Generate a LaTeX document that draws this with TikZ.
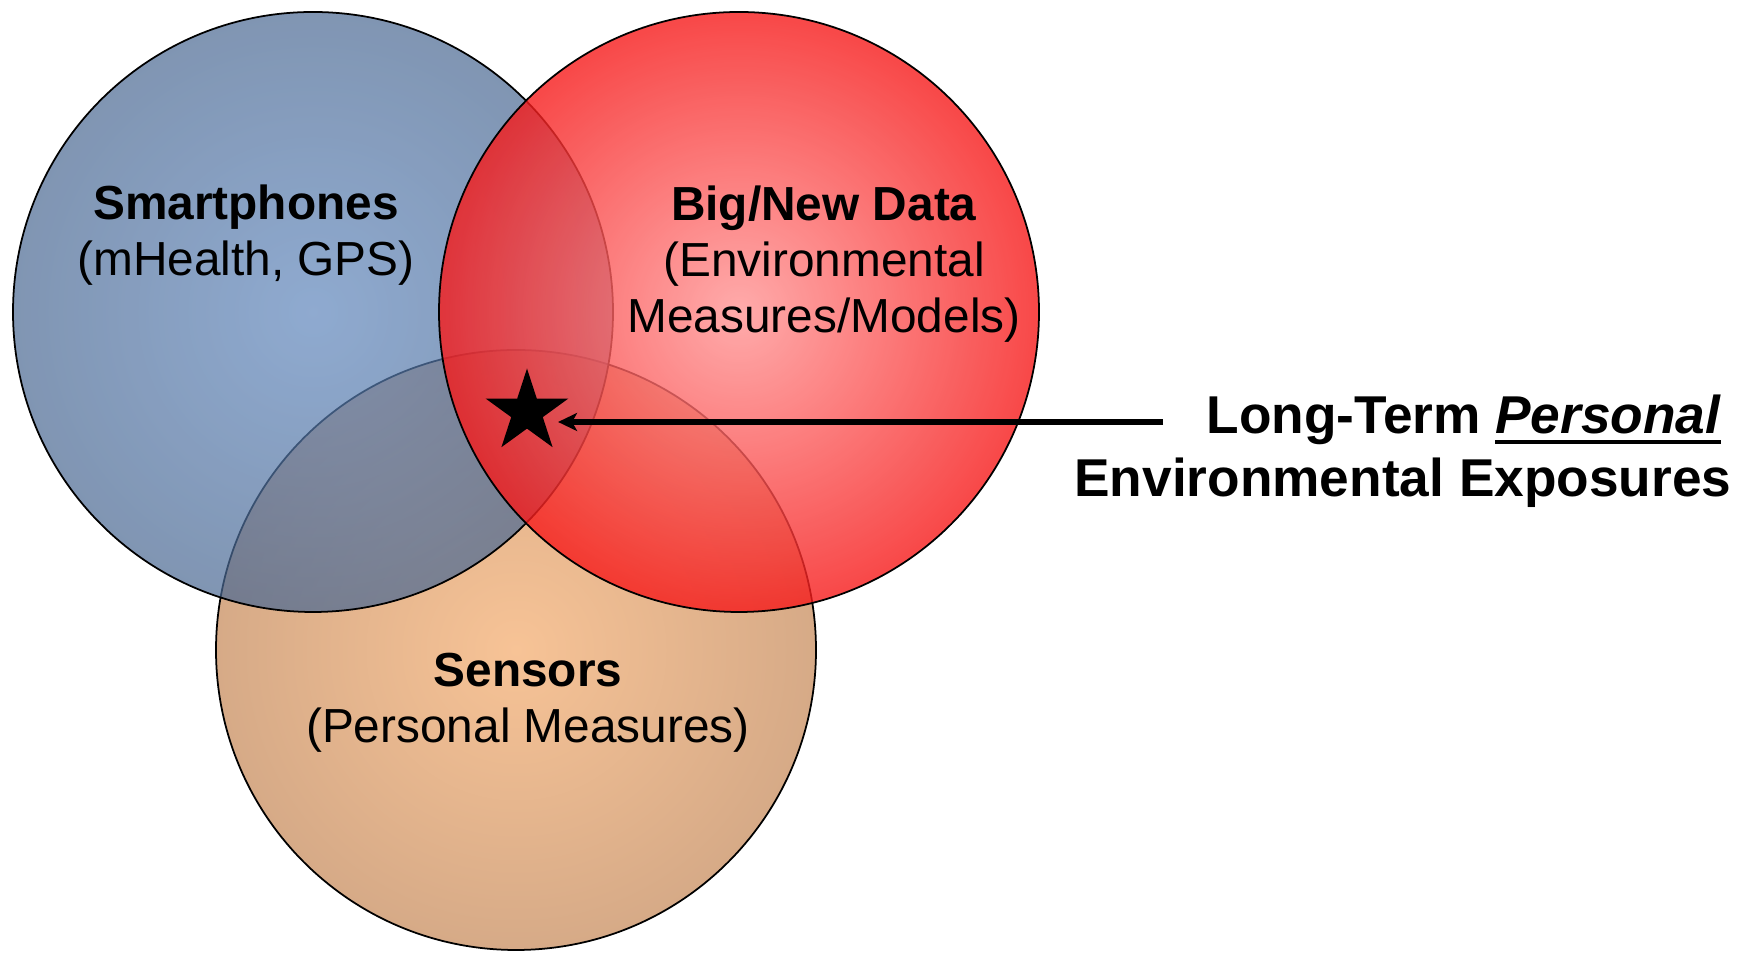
\documentclass[tikz,border=0pt]{standalone}
\usepackage{fontspec}
\setmainfont{Liberation Sans}
\usetikzlibrary{positioning, arrows.meta, shapes.geometric}

\definecolor{phonein}{RGB}{95,134,188}
\definecolor{phoneout}{RGB}{74,104,146}
\definecolor{datain}{RGB}{255,150,150}
\definecolor{dataout}{RGB}{246,26,26}
\definecolor{sensorin}{RGB}{247,195,150}
\definecolor{sensorout}{RGB}{214,170,135}

% thick underline a bit below the baseline
\newcommand{\thickul}[1]{\setbox0\hbox{#1}\rlap{\rule[-0.19em]{\wd0}{0.075em}}\box0}

\begin{document}
\begin{tikzpicture}[
      venn/.style={
        circle,
        draw,
        line width=0.5pt,
        minimum size=6cm,
        inner sep=0pt,
        fill opacity=0.7
      },
      setlabel/.style={
        align=center,
        font=\fontsize{13.6}{15.9}\selectfont
      },
      callout/.style={
        anchor=base east,
        inner sep=0pt,
        font=\fontsize{15.15}{18}\selectfont\bfseries
      },
      >={Stealth[length=0.19cm, width=0.18cm, inset=0.05cm]}
    ]
    \useasboundingbox (0,0) rectangle (17.37,9.53);

    % Circles, bottom one first
    \node[venn, inner color=sensorin, outer color=sensorout, fill opacity=1] (sensors) at (5.16,3.03) {};
    \node[venn, inner color=phonein, outer color=phoneout] (phones) at (3.13,6.41) {};
    \node[venn, inner color=datain, outer color=dataout, fill opacity=0.8] (data) at (7.39,6.41) {};

    % Labels
    \node[setlabel] (phoneslbl) at (2.46,7.18) {\textbf{Smartphones}\\(mHealth, GPS)};
    \node[setlabel] (datalbl) at (8.24,6.89) {\textbf{Big/New Data}\\(Environmental\\Measures/Models)};
    \node[setlabel] (sensorslbl) at (5.28,2.50) {\textbf{Sensors}\\(Personal Measures)};

    % Star and callout
    \node[star, star points=5, star point ratio=2.618, fill=black, inner sep=0pt, minimum size=0.87cm] (star) at (5.27,5.41) {};
    \node[callout] (longterm) at (17.22,5.19) {Long-Term \thickul{\textit{Personal}}};
    \node[callout] (envexp) at (17.32,4.56) {Environmental Exposures};

    \coordinate (tail) at (11.63,5.31);
    \draw[->, line width=1.6pt, shorten >=0.07cm] (tail) -- (tail -| star.east);
  \end{tikzpicture}
\end{document}
